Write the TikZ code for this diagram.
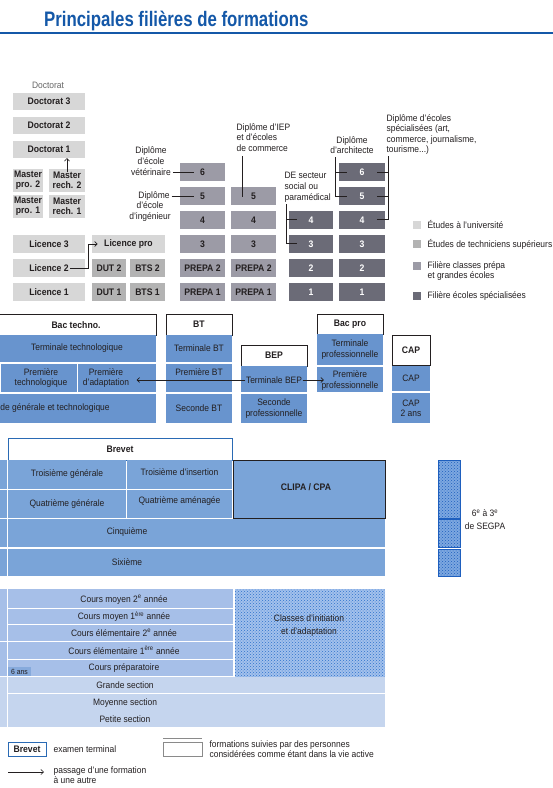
\documentclass[tikz,border=0pt]{standalone}
\usepackage{fontspec}
\setmainfont{Liberation Sans}[FakeStretch=0.91]
\newfontfamily\titlefont{Liberation Sans}[FakeStretch=0.8]
\usetikzlibrary{patterns,arrows.meta}
\definecolor{ink}{HTML}{231F20}
\definecolor{tblue}{HTML}{1458A8}
\definecolor{cuni}{HTML}{D7D7D7}
\definecolor{ctech}{HTML}{B3B3B3}
\definecolor{cprep}{HTML}{9C9BA6}
\definecolor{cspec}{HTML}{6B6B77}
\definecolor{cbac}{HTML}{6894CE}
\definecolor{ccol}{HTML}{7AA4D8}
\definecolor{cprim}{HTML}{A6BFE8}
\definecolor{cmat}{HTML}{C5D5EE}
\definecolor{bline}{HTML}{2A6AB4}
\definecolor{dotbase}{HTML}{A3C1EC}
\definecolor{dotcol}{HTML}{2F72CC}
\definecolor{segbase}{HTML}{7DA8E0}
\definecolor{segdot}{HTML}{1E5FBE}
\definecolor{csix}{HTML}{86AADC}
\definecolor{lgray}{HTML}{8A8A8A}
\definecolor{docgray}{HTML}{666666}
\newcommand\mkcell[7]{\node[#6, minimum width={(#4)-(#2)}, minimum height={(#5)-(#3)}] (#1) at ({((#2)+(#4))/2},{((#3)+(#5))/2}) {#7};}
\tikzset{
 cellbase/.style={inner sep=0pt, outer sep=0pt, align=center, text=ink},
 rtxt/.style={font=\fontsize{9.3}{10.4}\selectfont},
 btxt/.style={font=\bfseries\fontsize{9.5}{9.8}\selectfont},
 ucell/.style={cellbase, btxt, fill=cuni},
 tcell/.style={cellbase, btxt, fill=ctech},
 pcell/.style={cellbase, btxt, fill=cprep},
 scell/.style={cellbase, btxt, fill=cspec, text=white},
 hdr/.style={cellbase, btxt, fill=white, draw=ink, line width=0.9pt},
 hdrb/.style={cellbase, btxt, fill=white, draw=bline, line width=0.9pt},
 bcell/.style={cellbase, rtxt, fill=cbac},
 ccell/.style={cellbase, rtxt, fill=ccol},
 prcell/.style={cellbase, rtxt, fill=cprim},
 mcell/.style={cellbase, rtxt, fill=cmat},
 dotcell/.style={cellbase, rtxt, preaction={fill=dotbase}, pattern=crosshatch dots, pattern color=dotcol},
 segcell/.style={cellbase, preaction={fill=segbase}, pattern=crosshatch dots, pattern color=segdot, draw=segdot, line width=0.4pt},
 lab/.style={rtxt, text=ink, inner sep=0.6pt, outer sep=0pt},
 labb/.style={btxt, text=ink, align=center, inner sep=0.6pt, outer sep=0pt},
 conn/.style={draw=ink, line width=0.65pt},
 arr/.style={conn, -{Straight Barb[length=2.6pt,width=5pt]}},
}
\begin{document}
\begin{tikzpicture}[x=1pt,y=-1pt]
\useasboundingbox (0,0) rectangle (553,788);
\clip (0,0) rectangle (553,788);
\fill[white] (0,0) rectangle (553,788);

% ---------- title ----------
\node[anchor=base west, inner sep=0pt, text=tblue, font=\titlefont\bfseries\fontsize{21}{24}\selectfont] (title) at (44,26) {Principales filières de formations};
\draw[tblue, line width=1.2pt] (0,33) -- (553,33);

% ---------- university ----------
\node[lab, text=docgray] (doclab) at (48,85) {Doctorat};
\mkcell{d3}{13}{93}{85}{110}{ucell}{Doctorat 3}
\mkcell{d2}{13}{117}{85}{134}{ucell}{Doctorat 2}
\mkcell{d1}{13}{141}{85}{158}{ucell}{Doctorat 1}
\mkcell{mp2}{13}{169}{43}{192}{ucell}{Master\\pro. 2}
\mkcell{mr2}{49}{169}{85}{192}{ucell}{}
\node[labb] (mr2t) at (67,180.5) {Master\\rech. 2};
\mkcell{mp1}{13}{195}{43}{218}{ucell}{Master\\pro. 1}
\mkcell{mr1}{49}{195}{85}{218}{ucell}{Master\\rech. 1}
\mkcell{l3}{13}{235}{85}{253}{ucell}{Licence 3}
\mkcell{l2}{13}{259}{85}{277}{ucell}{}
\node[labb] (l2t) at (49,268) {Licence 2};
\mkcell{l1}{13}{283}{85}{301}{ucell}{Licence 1}
\mkcell{lpro}{92}{235}{165}{253}{ucell}{}
\node[labb] (lprot) at (128.5,244) {Licence pro};
\mkcell{dut2}{92}{259}{126}{277}{tcell}{DUT 2}
\mkcell{bts2}{130}{259}{165}{277}{tcell}{BTS 2}
\mkcell{dut1}{92}{283}{126}{301}{tcell}{DUT 1}
\mkcell{bts1}{130}{283}{165}{301}{tcell}{BTS 1}

% ---------- prepa ----------
\mkcell{pa6}{180}{163}{225}{181}{pcell}{6}
\mkcell{pa5}{180}{187}{225}{205}{pcell}{5}
\mkcell{pb5}{231}{187}{276}{205}{pcell}{5}
\mkcell{pa4}{180}{211}{225}{229}{pcell}{4}
\mkcell{pb4}{231}{211}{276}{229}{pcell}{4}
\mkcell{pa3}{180}{235}{225}{253}{pcell}{3}
\mkcell{pb3}{231}{235}{276}{253}{pcell}{3}
\mkcell{pa2}{180}{259}{225}{277}{pcell}{PREPA 2}
\mkcell{pb2}{231}{259}{276}{277}{pcell}{PREPA 2}
\mkcell{pa1}{180}{283}{225}{301}{pcell}{PREPA 1}
\mkcell{pb1}{231}{283}{276}{301}{pcell}{PREPA 1}

% ---------- ecoles specialisees ----------
\mkcell{sa4}{289}{211}{333}{229}{scell}{4}
\mkcell{sa3}{289}{235}{333}{253}{scell}{3}
\mkcell{sa2}{289}{259}{333}{277}{scell}{2}
\mkcell{sa1}{289}{283}{333}{301}{scell}{1}
\mkcell{sb6}{339}{163}{385}{181}{scell}{6}
\mkcell{sb5}{339}{187}{385}{205}{scell}{5}
\mkcell{sb4}{339}{211}{385}{229}{scell}{4}
\mkcell{sb3}{339}{235}{385}{253}{scell}{3}
\mkcell{sb2}{339}{259}{385}{277}{scell}{2}
\mkcell{sb1}{339}{283}{385}{301}{scell}{1}

% ---------- labels upper ----------
\node[lab, align=center, font=\fontsize{9.3}{10.8}\selectfont] (vet) at (151,161) {Diplôme\\d'école\\vétérinaire};
\node[lab] (ing1) at (154,196) {Diplôme};
\node[lab, align=center, font=\fontsize{9.3}{10.8}\selectfont] (ing2) at (150,211.5) {d'école\\d'ingénieur};
\node[lab, align=left, anchor=west, font=\fontsize{9.3}{10.6}\selectfont] (iep) at (236,137.5) {Diplôme d'IEP\\et d'écoles\\de commerce};
\node[lab, align=left, anchor=west, font=\fontsize{9.3}{10.8}\selectfont] (de) at (284,187) {DE secteur\\social ou\\paramédical};
\node[lab, align=center, font=\fontsize{9.3}{10.6}\selectfont] (arch) at (352,145) {Diplôme\\d'architecte};
\node[lab, align=left, anchor=west, font=\fontsize{9.3}{10.6}\selectfont] (spe) at (386,134.5) {Diplôme d'écoles\\spécialisées (art,\\commerce, journalisme,\\tourisme...)};

\coordinate (c6) at (194,172);
\coordinate (c5) at (194,196);
\draw[conn] ([xshift=1.5pt]vet.east |- c6) -- (c6);
\draw[conn] ([xshift=1.5pt]ing1.east) -- (c5);
\coordinate (iepB) at (242,197);
\draw[conn] ([yshift=-4pt]iep.south -| iepB) -- (iepB);
\coordinate (deTop) at (286,204);
\coordinate (de4) at (297,219);
\coordinate (de3) at (297,243);
\draw[conn] (deTop) |- (de3);
\draw[conn] (de4 -| deTop) -- (de4);
\coordinate (arTop) at (335,157);
\coordinate (ar6) at (347,172);
\coordinate (ar5) at (347,196);
\draw[conn] (arTop) |- (ar5);
\draw[conn] (ar6 -| arTop) -- (ar6);
\coordinate (spTop) at (388,156);
\coordinate (sp6) at (377,172);
\coordinate (sp5) at (377,196);
\coordinate (sp4) at (377,219);
\draw[conn] (spTop) |- (sp4);
\draw[conn] (sp6 -| spTop) -- (sp6);
\draw[conn] (sp5 -| spTop) -- (sp5);

\draw[arr] (mr2t.north) -- (mr2t.north |- d1.south);
\coordinate (kneeL) at (88,268);
\draw[arr] ([xshift=0.5pt]l2t.east) -- (l2t.east -| kneeL) |- ([xshift=-6pt]lprot.west);

% ---------- legend right ----------
\mkcell{lgU}{413}{221}{421}{229}{cellbase, fill=cuni}{}
\node[lab, anchor=west] (lgUt) at (427,225) {Études à l'université};
\mkcell{lgT}{413}{240}{421}{248}{cellbase, fill=ctech}{}
\node[lab, anchor=west] (lgTt) at (427,244) {Études de techniciens supérieurs};
\mkcell{lgP}{413}{262}{421}{270}{cellbase, fill=cprep}{}
\node[lab, anchor=west, align=left] (lgPt) at (427,271) {Filière classes prépa\\et grandes écoles};
\mkcell{lgS}{413}{292}{421}{300}{cellbase, fill=cspec}{}
\node[lab, anchor=west] (lgSt) at (427,296) {Filière écoles spécialisées};

% ---------- bac ----------
\mkcell{hbtech}{-5}{314}{156}{335}{hdr}{}
\node[labb] (hbtecht) at (76,325) {Bac techno.};
\mkcell{hbt}{166}{314}{232}{335}{hdr}{BT}
\mkcell{hbep}{241}{345}{307}{366}{hdr}{BEP}
\mkcell{hpro}{317}{314}{383}{334}{hdr}{Bac pro}
\mkcell{hcap}{392}{335}{430}{365}{hdr}{CAP}

\mkcell{tt}{-2}{335}{156}{362}{bcell}{Terminale technologique}
\mkcell{ptech}{1.2}{364}{77}{392}{bcell}{}
\node[lab, align=center] (ptecht) at (41,378) {Première\\technologique};
\mkcell{padapt}{78}{364}{156}{392}{bcell}{}
\node[lab, align=center] (padt) at (106,378) {Première\\d'adaptation};
\mkcell{sgt}{-2}{394}{156}{423}{bcell}{}
\node[lab, anchor=west, inner sep=0pt] (sgtt) at (-23.5,408) {Seconde générale et technologique};

\mkcell{tbt}{166}{335}{232}{362}{bcell}{Terminale BT}
\mkcell{pbt}{166}{364}{232}{392}{bcell}{}
\node[lab] (pbtt) at (199,372.5) {Première BT};
\mkcell{sbt}{166}{394}{232}{423}{bcell}{Seconde BT}

\mkcell{tbep}{241}{366}{307}{392}{bcell}{}
\node[lab] (tbept) at (274,380) {Terminale BEP};
\mkcell{sep}{241}{394}{307}{423}{bcell}{Seconde\\professionnelle}

\mkcell{tpro}{317}{334}{383}{365}{bcell}{Terminale\\professionnelle}
\mkcell{ppro}{317}{367}{383}{392}{bcell}{}
\node[lab, align=center] (pprot) at (350,380.5) {Première\\professionnelle};

\mkcell{cap}{392}{366}{430}{391}{bcell}{CAP}
\mkcell{cap2}{392}{393}{430}{423}{bcell}{CAP\\2 ans}

\draw[arr] (tbept.west) -- ([xshift=7pt]padt.east |- tbept.west);
\draw[arr] (tbept.east) -- ([xshift=3pt]pprot.west |- tbept.east);

% ---------- college ----------
\mkcell{hbrev}{8}{438}{232}{460}{hdrb}{Brevet}
\mkcell{ls1}{-2}{460}{6.5}{489}{ccell}{}
\mkcell{ls2}{-2}{490}{6.5}{518}{ccell}{}
\mkcell{ls3}{-2}{519}{6.5}{547}{ccell}{}
\mkcell{ls4}{-2}{549}{6.5}{576}{ccell}{}
\mkcell{t3g}{8}{460}{126}{489}{ccell}{Troisième générale}
\mkcell{t3i}{127}{460}{232}{489}{ccell}{}
\node[lab] (t3it) at (179.5,472) {Troisième d'insertion};
\mkcell{q4g}{8}{490}{126}{518}{ccell}{Quatrième générale}
\mkcell{q4a}{127}{490}{232}{518}{ccell}{}
\node[lab] (q4at) at (179.5,501) {Quatrième aménagée};
\mkcell{clipa}{233}{460}{385}{518}{ccell, draw=ink, line width=0.8pt}{}
\node[labb] (clipat) at (306,487) {CLIPA / CPA};
\mkcell{cinq}{8}{519}{385}{547}{ccell}{}
\node[lab] (cinqt) at (127,532) {Cinquième};
\mkcell{six}{8}{549}{385}{576}{ccell}{}
\node[lab] (sixt) at (127,562) {Sixième};

\mkcell{seg1}{438}{460}{460}{518}{segcell}{}
\mkcell{seg2}{438}{519}{460}{547}{segcell}{}
\mkcell{seg3}{438}{549}{460}{576}{segcell}{}
\node[lab, align=center, font=\fontsize{9.3}{12.5}\selectfont] (segt) at (485,519.5) {6\textsuperscript{e} à 3\textsuperscript{e}\\de SEGPA};

% ---------- primaire ----------
\mkcell{lp1}{-2}{589}{6.5}{641}{prcell}{}
\mkcell{lp2}{-2}{642}{6.5}{676}{prcell}{}
\mkcell{lp3}{-2}{677}{6.5}{727}{mcell}{}
\mkcell{cm2}{8}{589}{233}{608}{prcell}{}
\node[lab] (cm2t) at (124,599.5) {Cours moyen 2\textsuperscript{e} année};
\mkcell{cm1}{8}{609}{233}{624}{prcell}{}
\node[lab] (cm1t) at (124,616.5) {Cours moyen 1\textsuperscript{ère} année};
\mkcell{ce2}{8}{625}{233}{641}{prcell}{}
\node[lab] (ce2t) at (124,633) {Cours élémentaire 2\textsuperscript{e} année};
\mkcell{ce1}{8}{642}{233}{659}{prcell}{}
\node[lab] (ce1t) at (124,650.5) {Cours élémentaire 1\textsuperscript{ère} année};
\mkcell{cp}{8}{660}{233}{676}{prcell}{}
\node[lab] (cpt) at (124,668) {Cours préparatoire};
\mkcell{sixans}{8}{667}{31}{676}{cellbase, fill=csix, font=\fontsize{7.5}{8}\selectfont}{6 ans}
\mkcell{cia}{235}{589}{385}{677}{dotcell}{}
\node[lab, align=center, font=\fontsize{9.3}{13}\selectfont] (ciat) at (309,625.5) {Classes d'initiation\\et d'adaptation};
\mkcell{gs}{8}{677}{385}{693}{mcell}{}
\node[lab] (gst) at (125,685) {Grande section};
\mkcell{mps}{8}{694}{385}{727}{mcell}{}
\node[lab, align=center, font=\fontsize{9.3}{17}\selectfont] (mpst) at (125,710.5) {Moyenne section\\Petite section};

% ---------- legend bottom ----------
\mkcell{lgbrev}{8}{742}{46}{756}{hdrb}{Brevet}
\node[lab, anchor=west] (lgbrevt) at (53,749) {examen terminal};
\mkcell{lgva}{163}{742}{202}{756}{cellbase, draw=lgray, line width=0.7pt}{}
\draw[lgray, line width=0.7pt] ([yshift=4pt]lgva.north west) -- ([yshift=4pt]lgva.north east);
\node[lab, anchor=west, align=left] (lgvat) at (209,749.3) {formations suivies par des personnes\\considérées comme étant dans la vie active};
\node[lab, anchor=west, align=left] (lgarrt) at (53,775) {passage d'une formation\\à une autre};
\coordinate (lgA) at (8,772);
\draw[arr] (lgA) -- ([xshift=-9pt]lgarrt.west |- lgA);
\end{tikzpicture}
\end{document}
